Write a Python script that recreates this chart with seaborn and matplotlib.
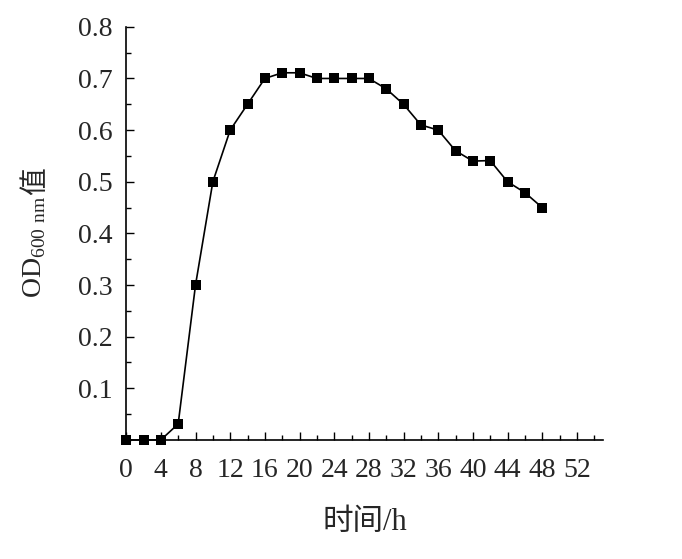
import matplotlib
matplotlib.use("Agg")
import matplotlib.pyplot as plt
from matplotlib.ticker import MultipleLocator
import pandas as pd
import seaborn as sns

# growth curve, sampled every 2 h
hours = [0, 2, 4, 6, 8, 10, 12, 14, 16, 18, 20, 22, 24,
         26, 28, 30, 32, 34, 36, 38, 40, 42, 44, 46, 48]
od600 = [0.0, 0.0, 0.0, 0.031, 0.30, 0.50, 0.60, 0.65, 0.70, 0.711, 0.711, 0.70, 0.70,
         0.70, 0.70, 0.68, 0.65, 0.61, 0.60, 0.56, 0.54, 0.541, 0.50, 0.479, 0.45]
xticks = list(range(0, 53, 4))
yticks = [0.1, 0.2, 0.3, 0.4, 0.5, 0.6, 0.7, 0.8]

df = pd.DataFrame({"time": hours, "od": od600})

sns.set_style("ticks")
plt.rcParams["font.family"] = ["Liberation Serif", "Noto Sans CJK SC"]
plt.rcParams["mathtext.fontset"] = "custom"
plt.rcParams["mathtext.rm"] = "Liberation Serif"

fig = plt.figure(figsize=(6.82, 5.59), dpi=100)
ax = fig.add_axes([0.185, 0.213, 0.699, 0.739])

sns.lineplot(data=df, x="time", y="od", ax=ax, color="black", linewidth=1.2,
             marker="s", markersize=6.5, markeredgewidth=0, clip_on=False)

ax.set_xlim(0, 55)
ax.set_ylim(0, 0.8)
ax.set_xticks(xticks)
ax.set_xticklabels([str(t) for t in xticks])
ax.xaxis.set_minor_locator(MultipleLocator(2))
ax.set_yticks(yticks)
ax.set_yticklabels([f"{v:.1f}" for v in yticks])
ax.yaxis.set_minor_locator(MultipleLocator(0.05))

ax.tick_params(axis="both", which="major", direction="in", length=5.5, width=1,
               labelsize=20, color="black")
ax.tick_params(axis="both", which="minor", direction="in", length=3.3, width=1,
               color="black")
ax.tick_params(axis="x", which="major", pad=13)
ax.tick_params(axis="y", which="major", pad=10)

for side in ["top", "right"]:
    ax.spines[side].set_visible(False)
for side in ["left", "bottom"]:
    ax.spines[side].set_linewidth(1.2)
    ax.spines[side].set_color("black")

ax.set_xlabel("时间/h", fontsize=22, labelpad=18)

# y label: "OD600 nm" (mathtext subscript) followed by the CJK character
ax.set_ylabel("")
lab1 = fig.text(0, 0, r"OD$_{\mathrm{600\ nm}}$", fontsize=20, rotation=90,
                ha="center", va="bottom", family="Liberation Serif")
lab2 = fig.text(0, 0, "值", fontsize=20, rotation=90, ha="center", va="bottom",
                family=["Noto Sans CJK SC"])
fig.canvas.draw()
r = fig.canvas.get_renderer()
h1 = lab1.get_window_extent(r).height
h2 = lab2.get_window_extent(r).height
W, H = fig.bbox.width, fig.bbox.height
ax_bb = ax.get_window_extent(r)
ymid = (ax_bb.y0 + ax_bb.y1) / 2
y0 = ymid - (h1 + h2) / 2
xc = 35
lab1.set_position((xc / W, y0 / H))
lab2.set_position((xc / W, (y0 + h1 + 1) / H))

fig.savefig("out.png", dpi=100)
